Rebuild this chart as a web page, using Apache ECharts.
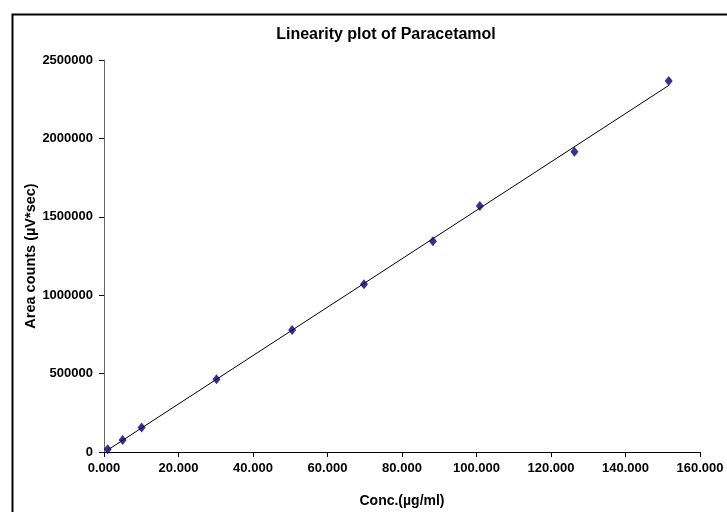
<!DOCTYPE html>
<html>
<head>
<meta charset="utf-8">
<script src="https://cdn.jsdelivr.net/npm/echarts@6/dist/echarts.min.js"></script>
<style>html,body{margin:0;padding:0;background:#fff}#c{width:727px;height:512px}</style>
</head>
<body>
<div id="c"></div>
<script>
// Data
const concentrations = [1.0, 5.0, 10.1, 30.2, 50.5, 69.8, 88.3, 100.9, 126.3, 151.6];
const areaCounts = [17000, 76000, 157000, 464000, 778000, 1070000, 1344000, 1569000, 1915000, 2366000];
const titleText = 'Linearity plot of Paracetamol';
const xName = 'Conc.(µg/ml)';
const yName = 'Area counts (µV*sec)';

// least-squares trendline over the data range (like the spreadsheet trendline)
const n = concentrations.length;
const mx = concentrations.reduce((a, b) => a + b, 0) / n;
const my = areaCounts.reduce((a, b) => a + b, 0) / n;
let sxy = 0, sxx = 0;
for (let i = 0; i < n; i++) { sxy += (concentrations[i] - mx) * (areaCounts[i] - my); sxx += (concentrations[i] - mx) ** 2; }
const slope = sxy / sxx, intercept = my - slope * mx;
const xFirst = Math.min(...concentrations), xLast = Math.max(...concentrations);
const trend = [[xFirst, intercept + slope * xFirst], [xLast, intercept + slope * xLast]];

const FONT = '"Liberation Sans", Arial, sans-serif';
const chart = echarts.init(document.getElementById('c'), null, {renderer: 'canvas'});
chart.setOption({
  animation: false,
  backgroundColor: '#fff',
  title: {
    text: titleText, left: 381, top: 22, textAlign: 'center',
    textStyle: {fontFamily: FONT, fontWeight: 'bold', fontSize: 16, color: '#000'}
  },
  graphic: [{
    type: 'rect', left: 10, top: 12, silent: true,
    shape: {width: 800, height: 600},
    style: {fill: 'none', stroke: '#000', lineWidth: 2}
  }],
  grid: {left: 104, right: 27, top: 60, bottom: 60, containLabel: false, outerBoundsMode: 'none'},
  xAxis: {
    type: 'value', min: 0, max: 160, interval: 20,
    name: xName, nameLocation: 'middle', nameGap: 42, nameMoveOverlap: false,
    nameTextStyle: {fontFamily: FONT, fontWeight: 'bold', fontSize: 14, color: '#000'},
    axisLine: {show: true, onZero: false, lineStyle: {color: '#000', width: 1}},
    axisTick: {show: true, length: 5, lineStyle: {color: '#000'}},
    axisLabel: {margin: 10, fontFamily: FONT, fontWeight: 'bold', fontSize: 13, color: '#000',
      formatter: v => v.toFixed(3)},
    splitLine: {show: false}
  },
  yAxis: {
    type: 'value', min: 0, max: 2500000, interval: 500000,
    name: yName, nameLocation: 'middle', nameGap: 66, nameRotate: 90, nameMoveOverlap: false,
    nameTextStyle: {fontFamily: FONT, fontWeight: 'bold', fontSize: 14.5, color: '#000'},
    axisLine: {show: true, onZero: false, lineStyle: {color: '#666', width: 1}},
    axisTick: {show: true, length: 5, lineStyle: {color: '#000'}},
    axisLabel: {margin: 11, fontFamily: FONT, fontWeight: 'bold', fontSize: 13, color: '#000',
      formatter: v => String(v)},
    splitLine: {show: false}
  },
  series: [
    {
      type: 'line', data: trend, symbol: 'none', silent: true,
      lineStyle: {color: '#000', width: 1}, z: 2
    },
    {
      type: 'scatter', data: concentrations.map((x, i) => [x, areaCounts[i]]),
      symbol: 'diamond', symbolSize: [8, 10],
      itemStyle: {color: '#000070'}, z: 3
    }
  ]
});
</script>
</body>
</html>
